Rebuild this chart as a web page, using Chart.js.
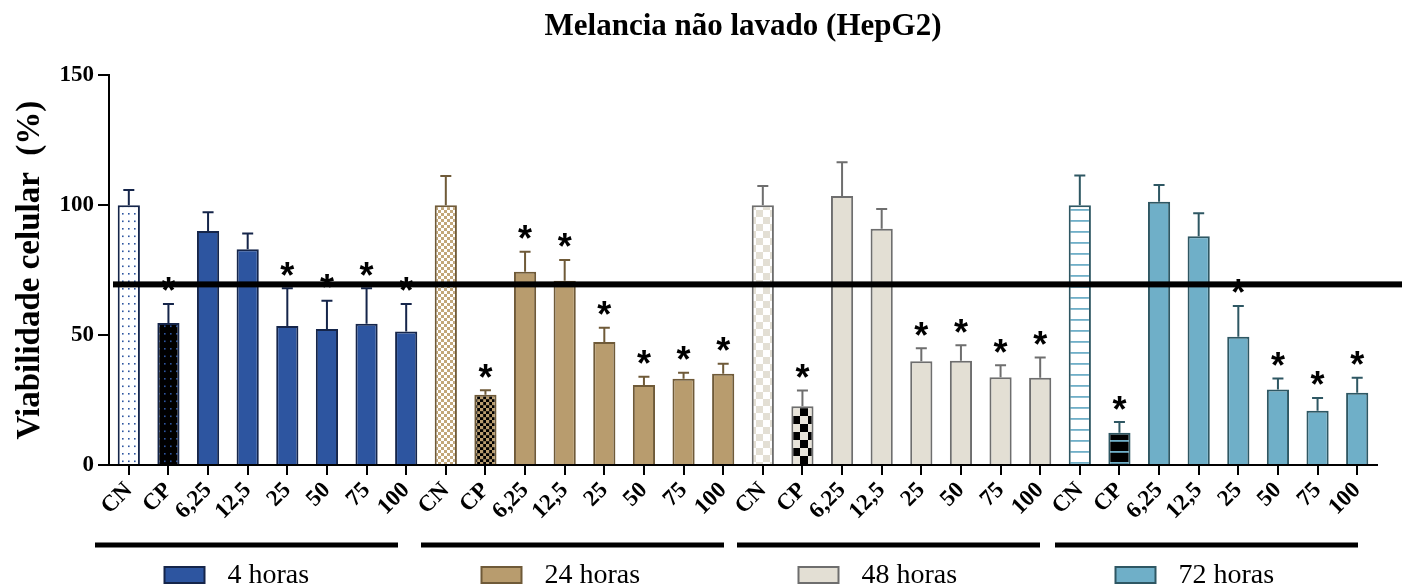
<!DOCTYPE html>
<html><head><meta charset="utf-8">
<script src="https://cdn.jsdelivr.net/npm/chart.js@4.4.1/dist/chart.umd.min.js"></script>
<style>html,body{margin:0;padding:0;background:#fff;}canvas{display:block;}</style>
</head><body>
<canvas id="c" width="1402" height="587"></canvas>
<script>
// ---------- data ----------
const categories = ['CN', 'CP', '6,25', '12,5', '25', '50', '75', '100'];
const groups = ['4 horas', '24 horas', '48 horas', '72 horas'];
const h4     = [100, 54.6, 90.0, 83.0, 53.5, 52.3, 54.4, 51.4];
const h4Err  = [5.8, 7.4, 7.3, 6.1, 14.5, 10.9, 13.6, 10.6];
const h24    = [100, 27.0, 74.4, 70.9, 47.3, 30.8, 33.2, 35.1];
const h24Err = [11.2, 1.8, 7.7, 8.0, 5.5, 3.2, 2.3, 3.9];
const h48    = [100, 22.6, 103.5, 90.9, 39.9, 40.1, 33.8, 33.6];
const h48Err = [7.4, 6.1, 13.0, 7.6, 5.0, 6.0, 4.6, 7.8];
const h72    = [100, 12.4, 101.3, 88.0, 49.4, 29.1, 20.9, 27.8];
const h72Err = [11.4, 4.1, 6.4, 8.9, 11.8, 4.2, 4.9, 5.8];
const sig4  = [0, 1, 0, 0, 1, 1, 1, 1];
const sig24 = [0, 1, 1, 1, 1, 1, 1, 1];
const sig48 = [0, 1, 0, 0, 1, 1, 1, 1];
const sig72 = [0, 1, 0, 0, 1, 1, 1, 1];
const yTicks = [0, 50, 100, 150];
const threshold = 69.5;

const values = [h4, h24, h48, h72];
const errors = [h4Err, h24Err, h48Err, h72Err];
const sigs = [sig4, sig24, sig48, sig72];

// ---------- styles ----------
const SERIF = "'Liberation Serif', 'Times New Roman', serif";
const fills   = ['#2d55a0', '#b89c6e', '#e3dfd4', '#6fafc8'];
const borders = ['#15254a', '#6f5a38', '#6e6e6e', '#2e5763'];
const STAR_SIZE = 36;

function makePattern(w, h, drawFn) {
  const c = document.createElement('canvas');
  c.width = w; c.height = h;
  const g = c.getContext('2d');
  drawFn(g, w, h);
  return document.getElementById('c').getContext('2d').createPattern(c, 'repeat');
}
function dots(bg, fg) {
  return makePattern(6, 15, (g) => {
    g.fillStyle = bg; g.fillRect(0, 0, 6, 15);
    g.fillStyle = fg;
    g.fillRect(2, 3, 1.6, 1.6);
    g.fillRect(2, 10.5, 1.6, 1.6);
  });
}
function checker(a, b, s) {
  return makePattern(2 * s, 2 * s, (g) => {
    g.fillStyle = a; g.fillRect(0, 0, 2 * s, 2 * s);
    g.fillStyle = b; g.fillRect(0, 0, s, s); g.fillRect(s, s, s, s);
  });
}
function stripes(bg, fg, step) {
  return makePattern(8, step, (g) => {
    g.fillStyle = bg; g.fillRect(0, 0, 8, step);
    g.fillStyle = fg; g.fillRect(0, 0, 8, 1.8);
  });
}
const cnPatterns = [
  dots('#ffffff', '#2d55a0'),
  checker('#ffffff', '#c2a77a', 3),
  checker('#ffffff', '#e3dfd4', 7),
  stripes('#ffffff', '#6fafc8', 11.5)
];
const cpPatterns = [
  dots('#000000', '#2d55a0'),
  checker('#000000', '#b89c6e', 3.2),
  checker('#000000', '#e8e4da', 8),
  stripes('#000000', '#6fafc8', 11.5)
];

const labels = [];
groups.forEach(() => categories.forEach(c => labels.push(c)));

const datasets = groups.map((name, g) => {
  const data = new Array(labels.length).fill(null);
  values[g].forEach((v, i) => { data[g * categories.length + i] = v; });
  return {
    label: name,
    data,
    grouped: false,
    backgroundColor: (ctx) => {
      const k = ctx.dataIndex % categories.length;
      return k === 0 ? cnPatterns[g] : k === 1 ? cpPatterns[g] : fills[g];
    },
    borderColor: borders[g],
    borderWidth: 2,
    borderSkipped: 'bottom',
    barPercentage: 0.56,
    categoryPercentage: 1.0
  };
});

const extras = {
  id: 'extras',
  afterDatasetsDraw(chart) {
    const ctx = chart.ctx;
    const ys = chart.scales.y;
    ctx.save();
    chart.data.datasets.forEach((ds, g) => {
      const meta = chart.getDatasetMeta(g);
      values[g].forEach((v, i) => {
        const idx = g * categories.length + i;
        const el = meta.data[idx];
        const x = el.x;
        const top = ys.getPixelForValue(v + errors[g][i]);
        ctx.strokeStyle = borders[g];
        ctx.lineWidth = 2;
        ctx.beginPath();
        ctx.moveTo(x, el.y); ctx.lineTo(x, top);
        ctx.moveTo(x - 5.5, top); ctx.lineTo(x + 5.5, top);
        ctx.stroke();
        if (sigs[g][i]) {
          ctx.fillStyle = '#000';
          ctx.font = "bold " + STAR_SIZE + "px 'Liberation Sans', Arial, sans-serif";
          ctx.textAlign = 'center';
          ctx.textBaseline = 'alphabetic';
          ctx.fillText('*', x, top - 21 + 0.57 * STAR_SIZE);
        }
      });
    });
    // threshold line
    const ty = ys.getPixelForValue(threshold);
    ctx.fillStyle = '#000';
    ctx.fillRect(chart.chartArea.left + 4, ty - 3, chart.width - chart.chartArea.left - 4, 6);
    ctx.restore();
  },
  afterDraw(chart) {
    const ctx = chart.ctx;
    const xs = chart.scales.x;
    const b = chart.chartArea.bottom;
    const shift = [-21, -12, -13, -12];
    ctx.save();
    groups.forEach((name, g) => {
      const c = (xs.getPixelForValue(g * categories.length) + xs.getPixelForValue(g * categories.length + categories.length - 1)) / 2;
      ctx.fillStyle = '#000';
      ctx.fillRect(c + shift[g] - 151.5, b + 77.5, 303, 5);
      const bx = c - 103;
      ctx.fillStyle = fills[g];
      ctx.fillRect(bx, b + 102, 40, 16);
      ctx.strokeStyle = borders[g];
      ctx.lineWidth = 2;
      ctx.strokeRect(bx, b + 102, 40, 16);
      ctx.fillStyle = '#000';
      ctx.font = '28px ' + SERIF;
      ctx.textAlign = 'left';
      ctx.textBaseline = 'alphabetic';
      ctx.fillText(name, bx + 63, b + 118);
    });
    ctx.restore();
  }
};

new Chart(document.getElementById('c'), {
  type: 'bar',
  data: { labels, datasets },
  options: {
    responsive: false,
    devicePixelRatio: 1,
    animation: false,
    layout: { padding: { left: 0, right: 25, top: 0, bottom: 0 } },
    plugins: {
      legend: { display: false },
      tooltip: { enabled: false },
      title: {
        display: true,
        fullSize: false,
        text: 'Melancia não lavado (HepG2)',
        color: '#000',
        font: { family: SERIF, size: 31, weight: 'bold', lineHeight: 1.2 },
        padding: { top: 8, bottom: 30 }
      }
    },
    scales: {
      x: {
        type: 'category',
        offset: true,
        grid: { offset: false, drawOnChartArea: false, drawTicks: true, tickLength: 10, color: '#000', lineWidth: 2 },
        border: { color: '#000', width: 2 },
        ticks: {
          autoSkip: false, maxRotation: 45, minRotation: 45, padding: 2,
          color: '#000', font: { family: SERIF, size: 23, weight: 'bold' }
        },
        afterFit: (s) => { s.height = 122; }
      },
      y: {
        min: 0, max: 150,
        afterBuildTicks: (s) => { s.ticks = yTicks.map(v => ({ value: v })); },
        grid: { drawOnChartArea: false, drawTicks: true, tickLength: 11, color: '#000', lineWidth: 2 },
        border: { color: '#000', width: 2 },
        ticks: { color: '#000', padding: 4, font: { family: SERIF, size: 23, weight: 'bold' } },
        title: {
          display: true, text: 'Viabilidade celular  (%)', color: '#000',
          font: { family: SERIF, size: 33, weight: 'bold', lineHeight: 1.2 },
          padding: { top: 11, bottom: 0 }
        },
        afterFit: (s) => { s.width = 109; }
      }
    }
  },
  plugins: [extras]
});
</script>
</body></html>
